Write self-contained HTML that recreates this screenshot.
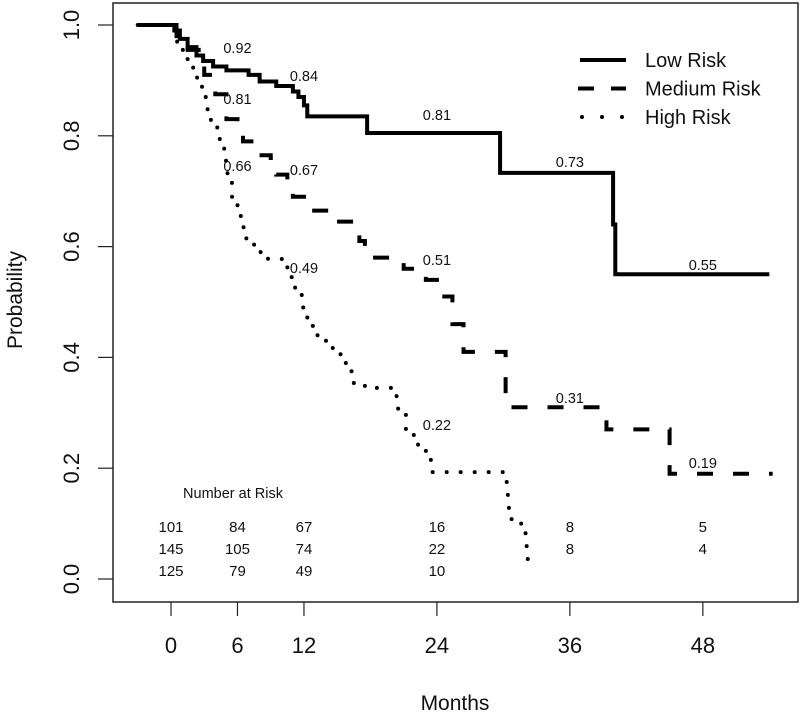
<!DOCTYPE html>
<html><head><meta charset="utf-8"><style>
html,body{margin:0;padding:0;background:#fff}
svg{display:block;font-family:"Liberation Sans",Arial,sans-serif}
</style></head><body>
<svg id="chart" width="800" height="714" viewBox="0 0 800 714" xmlns="http://www.w3.org/2000/svg"></svg>
<script>
// ---- data ----
const lowT = [-3, 0.3, 0.8, 1.5, 2.3, 2.9, 3.8, 5, 7, 8, 9.5, 11, 11.5, 12, 12.3, 17.7, 29.7, 39.9, 40.1];
const lowS = [1, 0.99, 0.975, 0.96, 0.945, 0.935, 0.925, 0.918, 0.91, 0.898, 0.89, 0.88, 0.87, 0.855, 0.835, 0.805, 0.733, 0.64, 0.55];
const lowEnd = 54;
const medT = [-3, 0.5, 1.5, 2.5, 3, 4, 5, 6, 6.5, 7.5, 9, 9.5, 10.5, 11, 12, 14.5, 17, 17.5, 21, 23, 24, 25.4, 26.4, 30.2, 39.3, 45];
const medS = [1, 0.98, 0.955, 0.93, 0.91, 0.875, 0.83, 0.81, 0.79, 0.765, 0.76, 0.73, 0.72, 0.69, 0.665, 0.645, 0.61, 0.58, 0.56, 0.54, 0.51, 0.46, 0.41, 0.31, 0.27, 0.19];
const medEnd = 54.3;
const highT = [-3, 0.5, 1, 1.5, 2, 2.8, 3.3, 3.6, 4.4, 4.8, 5.1, 5.5, 6, 6.3, 6.8, 7.5, 8.5, 10, 10.5, 11.2, 11.8, 12.3, 12.8, 13.8, 14.6, 15.3, 16, 16.5, 17.5, 20, 20.5, 21.2, 22.3, 23, 23.5, 30.3, 30.4, 30.5, 31.2, 32, 32.1, 32.2];
const highS = [1, 0.97, 0.955, 0.93, 0.905, 0.87, 0.84, 0.815, 0.79, 0.755, 0.73, 0.69, 0.66, 0.635, 0.61, 0.59, 0.578, 0.565, 0.545, 0.515, 0.49, 0.46, 0.44, 0.43, 0.415, 0.39, 0.375, 0.35, 0.345, 0.33, 0.305, 0.26, 0.24, 0.215, 0.193, 0.173, 0.14, 0.108, 0.1, 0.078, 0.045, 0.013];
const highEnd = 32.2;
const xTicks = [0, 6, 12, 24, 36, 48];
const yTicks = [0, 0.2, 0.4, 0.6, 0.8, 1.0];
const yTickLabels = ["0.0", "0.2", "0.4", "0.6", "0.8", "1.0"];
const annoT = [6, 12, 6, 6, 12, 12, 24, 24, 24, 36, 36, 48, 48];
const annoS = [0.92, 0.84, 0.81, 0.66, 0.67, 0.49, 0.81, 0.51, 0.22, 0.73, 0.31, 0.55, 0.19];
const annoLabels = ["0.92", "0.84", "0.81", "0.66", "0.67", "0.49", "0.81", "0.51", "0.22", "0.73", "0.31", "0.55", "0.19"];
const annoY = [48, 76, 99, 166, 170, 268, 115, 260, 425, 162, 398, 265, 463];
const riskTimes = [0, 6, 12, 24, 36, 48];
const riskLow = ["101", "84", "67", "16", "8", "5"];
const riskMed = ["145", "105", "74", "22", "8", "4"];
const riskHigh = ["125", "79", "49", "10", "", ""];

// ---- axes ----
const xs = m => 171 + 11.08 * m;
const ys = v => 579 - 554 * v;
const NS = "http://www.w3.org/2000/svg";
const svg = document.getElementById("chart");
function mk(tag, attrs, parent) {
  const e = document.createElementNS(NS, tag);
  for (const k in attrs) e.setAttribute(k, attrs[k]);
  (parent || svg).appendChild(e);
  return e;
}

const box = mk("rect", {x:113, y:3, width:685, height:599, fill:"none", stroke:"#222", "stroke-width":1.5});



xTicks.forEach(t => {
  const l = mk("line", {x1:xs(t), x2:xs(t), y1:602, y2:616, stroke:"#222", "stroke-width":1.2});
  
  
  const tx = mk("text", {x:xs(t), y:653, "font-size":22, "text-anchor":"middle", fill:"#111"});
  tx.textContent = String(t);
  
  
});
yTicks.forEach((v, i) => {
  const l = mk("line", {x1:98, x2:113, y1:ys(v), y2:ys(v), stroke:"#222", "stroke-width":1.2});
  
  
  const tx = mk("text", {x:0, y:0, "font-size":22, "text-anchor":"middle", fill:"#111", transform:`translate(79,${ys(v)}) rotate(-90)`});
  tx.textContent = yTickLabels[i];
  
  
});
const xt = mk("text", {x:455, y:710, "font-size":21, "text-anchor":"middle", fill:"#111"});
xt.textContent = "Months";


const yt = mk("text", {x:0, y:0, "font-size":21, "text-anchor":"middle", fill:"#111", transform:"translate(22,300) rotate(-90)"});
yt.textContent = "Probability";



// ---- curves ----
function stepPath(T, S, end) {
  let d = `M${xs(T[0])},${ys(S[0])}`;
  for (let i = 1; i < T.length; i++) {
    d += ` H${xs(T[i])} V${ys(S[i])}`;
  }
  d += ` H${xs(end)}`;
  return d;
}
const pLow = mk("path", {d:stepPath(lowT, lowS, lowEnd), fill:"none", stroke:"#000", "stroke-width":4});


const pMed = mk("path", {d:stepPath(medT, medS, medEnd), fill:"none", stroke:"#000", "stroke-width":4, "stroke-dasharray":"16 20"});


const pHigh = mk("path", {d:stepPath(highT, highS, highEnd), fill:"none", stroke:"#000", "stroke-width":4, "stroke-linecap":"round", "stroke-dasharray":"0 14"});



// ---- annotations ----
annoT.forEach((t, i) => {
  const tx = mk("text", {x:xs(t), y:annoY[i] + 5, "font-size":14.5, "text-anchor":"middle", fill:"#111"});
  tx.textContent = annoLabels[i];
  
  
});

// ---- number at risk ----
const nar = mk("text", {x:233, y:498, "font-size":14.5, "text-anchor":"middle", fill:"#111"});
nar.textContent = "Number at Risk";


[riskLow, riskMed, riskHigh].forEach((row, r) => {
  riskTimes.forEach((t, i) => {
    if (!row[i]) return;
    const tx = mk("text", {x:xs(t), y:532 + 22 * r, "font-size":15, "text-anchor":"middle", fill:"#111"});
    tx.textContent = row[i];
    
    
  });
});

// ---- legend ----
const legNames = ["Low Risk", "Medium Risk", "High Risk"];
legNames.forEach((n, i) => {
  const y = 60 + 28.5 * i;
  const attrs = {x1:580, x2:626, y1:y, y2:y, stroke:"#000", "stroke-width":4};
  if (i === 1) { attrs.x1 = 578; attrs["stroke-dasharray"] = "16 17"; }
  if (i === 2) { attrs.x1 = 582; attrs["stroke-linecap"] = "round"; attrs["stroke-dasharray"] = "0 20"; }
  const l = mk("line", attrs);
  
  
  const tx = mk("text", {x:645, y:y + 7, "font-size":20, fill:"#111"});
  tx.textContent = n;
  
  
});
</script>
</body></html>
